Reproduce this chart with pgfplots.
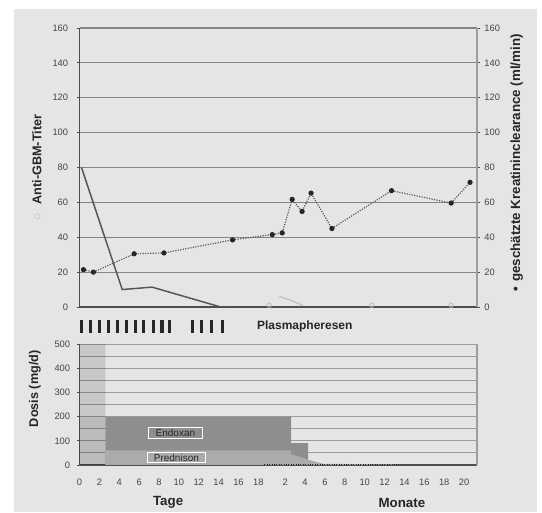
\documentclass[border=0pt]{standalone}
\usepackage{fontspec}
\setmainfont{Liberation Sans}
\usepackage{pgfplots}
\pgfplotsset{compat=1.18}
\definecolor{panel}{HTML}{E5E5E5}
\definecolor{gridc}{HTML}{858585}
\definecolor{gridb}{HTML}{9C9C9C}
\definecolor{axc}{HTML}{4D4D4D}
\definecolor{rightc}{HTML}{9E9E9E}
\definecolor{ticktxt}{HTML}{454545}
\definecolor{labtxt}{HTML}{262626}
\definecolor{titer}{HTML}{555555}
\definecolor{faint}{HTML}{BDBDBD}
\definecolor{clear}{HTML}{5A5A5A}
\definecolor{endox}{HTML}{8E8E8E}
\definecolor{pred}{HTML}{ABABAB}
\definecolor{plasc}{HTML}{262626}

\pgfplotsset{
  panel/.style={scale only axis, anchor=south west, width=298.125pt,
    xmin=0, xmax=40,
    tick label style={font=\fontsize{7}{8}\selectfont, text=ticktxt},
    /pgf/number format/assume math mode=true,
    label style={font=\bfseries\fontsize{9.5}{11}\selectfont, text=labtxt},
    tick align=outside, major tick length=2pt, minor tick length=0pt,
    tick style={axc, line width=0.6pt},
    axis line style={axc, line width=0.9pt, -},
  },
}

\begin{document}
\begin{tikzpicture}
\useasboundingbox (0,0) rectangle (406.5pt,384.75pt);
\fill[white] (0,0) rectangle (406.5pt,384.75pt);
\fill[panel] (10.5pt,0.75pt) rectangle (402.75pt,378pt);

% oberes Diagramm: Titer (links)
\begin{axis}[panel, at={(59.625pt,154.5pt)}, height=209.25pt,
  ymin=0, ymax=160, ytick={0,20,...,160},
  axis x line*=bottom, axis y line*=left, xtick=\empty,
  ymajorgrids, grid style={gridc, line width=0.9pt},
  ylabel={{\color{faint}○}\hspace{6pt}Anti-GBM-Titer},
  ylabel style={at={(axis description cs:-0.107,0.5)}, anchor=center},
  yticklabel style={xshift=-3pt}]
\addplot[titer, line width=1.1pt] coordinates {(0.2,80) (4.3,10) (7.3,11.4) (14.2,0) (15,0)};
\addplot[faint, line width=0.8pt] coordinates {(20.1,6) (21.2,4) (22.5,0.8)};
\addplot[faint, only marks, mark=o, mark size=1.6pt, line width=0.6pt] coordinates {(19.1,1) (29.4,1) (37.4,1)};
\end{axis}

% oberes Diagramm: Kreatininclearance (rechts)
\begin{axis}[panel, at={(59.625pt,154.5pt)}, height=209.25pt,
  ymin=0, ymax=160, ytick={0,20,...,160},
  axis y line*=right, axis x line=none,
  axis line style={rightc, line width=1.6pt, -},
  ylabel={•\hspace{4pt}geschätzte Kreatininclearance (ml/min)},
  ylabel style={at={(axis description cs:1.10,0.516)}, anchor=center,
    font=\bfseries\fontsize{10}{11}\selectfont}]
\addplot[clear, densely dotted, line width=0.9pt, mark=*, mark size=1.5pt,
  mark options={solid, fill=labtxt, draw=labtxt}] coordinates {
  (0.4,21.4) (1.4,20) (5.5,30.5) (8.5,31) (15.4,38.5) (19.4,41.5) (20.4,42.5)
  (21.4,61.7) (22.4,54.8) (23.3,65.3) (25.4,45) (31.4,66.7) (37.4,59.6) (39.3,71.5)};
\end{axis}

% Plasmapheresen
\begin{axis}[panel, at={(59.625pt,135pt)}, height=9.75pt,
  ymin=0, ymax=1, hide axis, clip=false]
\addplot[ycomb, draw=plasc, line width=2.3pt] coordinates {
  (0.2,1) (1.1,1) (2.0,1) (2.9,1) (3.8,1) (4.7,1) (5.6,1) (6.4,1) (7.4,1) (8.3,1) (9.1,1)
  (11.4,1) (12.3,1) (13.3,1) (14.4,1)};
\node[anchor=west, font=\bfseries\fontsize{9}{10}\selectfont, text=labtxt] at (axis cs:17.4,0.5) {Plasmapheresen};
\end{axis}

% unteres Diagramm: Dosis
\begin{axis}[panel, at={(59.625pt,36pt)}, height=90.75pt,
  ymin=0, ymax=500, ytick={0,100,...,500}, minor ytick={50,150,...,450},
  ymajorgrids, yminorgrids,
  grid style={gridb, line width=0.7pt}, minor grid style={gridb, line width=0.7pt},
  axis x line*=bottom, axis y line*=left,
  xtick={0,2,4,6,8,10,12,14,16,18,20.7,22.7,24.7,26.7,28.7,30.7,32.7,34.7,36.7,38.7},
  xticklabels={0,2,4,6,8,10,12,14,16,18,2,4,6,8,10,12,14,16,18,20},
  xtick style={draw=none},
  xticklabel style={yshift=-5pt},
  yticklabel style={xshift=-1.5pt},
  ylabel={Dosis (mg/d)},
  ylabel style={at={(axis description cs:-0.112,0.63)}, anchor=center},
  clip=false]
\addplot[fill=black, fill opacity=0.13, draw=none] coordinates {(0,0) (0,500) (2.6,500) (2.6,0)} \closedcycle;
\addplot[fill=black, fill opacity=0.06, draw=none] coordinates {(0,0) (0,200) (2.6,200) (2.6,0)} \closedcycle;
\addplot[fill=endox, draw=none] coordinates {(2.6,0) (2.6,200) (21.3,200) (21.3,90) (23,90) (23,0)} \closedcycle;
\addplot[fill=pred, draw=none] coordinates {(2.6,0) (2.6,60) (21.3,60) (21.3,45) (23,22) (24.5,5) (32,2) (32,0)} \closedcycle;
\addplot[labtxt, densely dotted, line width=0.8pt] coordinates {(18.6,3) (32,3)};
\node[draw=white, line width=0.7pt, minimum width=41pt, minimum height=8pt, inner sep=1pt,
  font=\fontsize{7.5}{8}\selectfont, text=labtxt] at (axis cs:9.65,132) {Endoxan};
\node[draw=white, line width=0.7pt, minimum width=43pt, minimum height=8pt, inner sep=1pt,
  font=\fontsize{7.5}{8}\selectfont, text=labtxt] at (axis cs:9.75,31) {Prednison};
\node[font=\bfseries\fontsize{10}{11}\selectfont, text=labtxt] at (axis description cs:0.223,-0.31) {Tage};
\node[font=\bfseries\fontsize{10}{11}\selectfont, text=labtxt] at (axis description cs:0.811,-0.31) {Monate};
\end{axis}

\begin{axis}[panel, at={(59.625pt,36pt)}, height=90.75pt,
  ymin=0, ymax=500, ytick=\empty,
  axis y line*=right, axis x line=none,
  axis line style={rightc, line width=0.8pt, -}]
\addplot[draw=none] coordinates {(0,0)};
\end{axis}
\end{tikzpicture}
\end{document}
